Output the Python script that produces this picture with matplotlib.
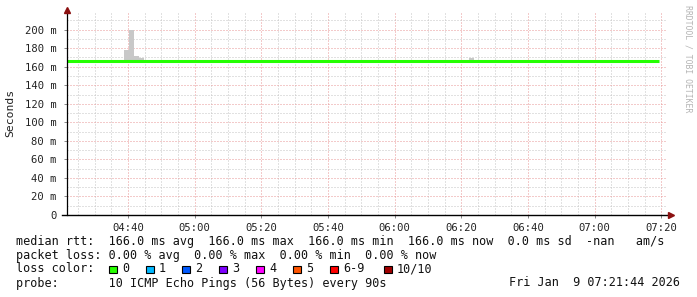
import numpy as np
import matplotlib
matplotlib.use("Agg")
import matplotlib.pyplot as plt
import matplotlib.dates as mdates
from matplotlib.patches import Rectangle

# graph window (rrdtool style, 3 hours ending at the timestamp)
day = "2026-01-09T"
t_start = day + "04:21:44"
t_end = day + "07:21:44"

# median rtt line (seconds)
median_times = ["04:21:44", "07:19:20"]
median_rtt = [0.166, 0.166]

# smoke (min..max of pings), 90 s steps
smoke_times = ["04:38:50", "04:40:20", "04:41:50", "04:43:20", "06:22:20"]
smoke_low = [0.165, 0.165, 0.165, 0.165, 0.1665]
smoke_high = [0.1784, 0.200, 0.1719, 0.1697, 0.1695]
step_seconds = 90

y_ticks = [0, 0.02, 0.04, 0.06, 0.08, 0.10, 0.12, 0.14, 0.16, 0.18, 0.20]
y_labels = ["0", "20 m", "40 m", "60 m", "80 m", "100 m", "120 m",
            "140 m", "160 m", "180 m", "200 m"]
y_top = 0.218

loss_labels = ["0", "1", "2", "3", "4", "5", "6-9", "10/10"]
loss_colors = ["#26ff00", "#00b8ff", "#0059ff", "#7e00ff",
               "#ff00ff", "#ff5500", "#ff0000", "#a10000"]
# pixel positions of the legend boxes
loss_box_x = [109, 146, 182, 219, 256, 293, 330, 384]

W, H = 697, 297
mono = "DejaVu Sans Mono"


def tnum(s):
    if "T" not in s:
        s = day + s
    return mdates.date2num(np.datetime64(s))


fig = plt.figure(figsize=(W / 100, H / 100), dpi=100)
fig.patch.set_facecolor("white")
ax = fig.add_axes([67 / W, (H - 215) / H, 600 / W, 202 / H])
ax.set_facecolor("white")

# smoke
x_smoke = [tnum(t) for t in smoke_times]
heights = np.array(smoke_high) - np.array(smoke_low)
ax.bar(x_smoke, heights, bottom=smoke_low, width=step_seconds / 86400,
       align="edge", color="#c8c8c8", linewidth=0, antialiased=False, zorder=2)

# median
ax.plot([tnum(t) for t in median_times], median_rtt, color=loss_colors[0],
        lw=2.2, solid_capstyle="butt", zorder=3)

ax.set_xlim(tnum(t_start), tnum(t_end))
ax.set_ylim(0, y_top)

ax.xaxis.set_major_locator(mdates.MinuteLocator(byminute=[0, 20, 40]))
ax.xaxis.set_minor_locator(mdates.MinuteLocator(byminute=[5, 10, 15, 25, 30, 35, 45, 50, 55]))
ax.xaxis.set_major_formatter(mdates.DateFormatter("%H:%M"))
ax.set_yticks(y_ticks)
ax.set_yticklabels(y_labels)
ax.set_yticks([0.01, 0.03, 0.05, 0.07, 0.09, 0.11, 0.13, 0.15, 0.17, 0.19, 0.21], minor=True)

dots = (0, (1, 2))
ax.grid(which="minor", color="#c4c4c4", lw=0.72, ls=dots, zorder=1)
ax.grid(which="major", color="#e89696", lw=0.72, ls=dots, zorder=1)

for s in ["top", "right"]:
    ax.spines[s].set_visible(False)
ax.spines["bottom"].set_visible(False)
ax.spines["left"].set_linewidth(0.9)
ax.spines["left"].set_zorder(4)

# x axis line extends a little left of the y axis, with arrows
ax.plot([-5 / 600, 1.0], [0, 0], transform=ax.transAxes, color="black",
        lw=1.0, clip_on=False, zorder=4)
ax.plot([1.0 + 4 / 600], [0], marker=">", ms=4.5, color="#8b1010",
        transform=ax.transAxes, clip_on=False, zorder=5)
ax.plot([0], [1.0 + 3 / 202], marker="^", ms=4.5, color="#8b1010",
        transform=ax.transAxes, clip_on=False, zorder=5)

ax.tick_params(axis="x", which="major", length=2, width=0.7, color="#888888",
               pad=3.5, labelsize=7.6, direction="out")
ax.tick_params(axis="x", which="minor", length=0)
ax.tick_params(axis="y", which="major", length=2, width=0.7, color="#888888",
               pad=5.5, labelsize=7.6, direction="out")
ax.tick_params(axis="y", which="minor", length=0)
for lab in ax.get_xticklabels() + ax.get_yticklabels():
    lab.set_family(mono)
    lab.set_color("#222222")

# axis title and watermark
fig.text(10 / W, 1 - 113 / H, "Seconds", rotation=90, family=mono, size=8.2,
         ha="center", va="center", color="#222222")
fig.text(688 / W, 1 - 59 / H, "RRDTOOL / TOBI OETIKER", rotation=270,
         family=mono, size=5.9, ha="center", va="center", color="#b4b4b4")

# legend lines
fs = 8.5
lines = [
    (241, "median rtt:  166.0 ms avg  166.0 ms max  166.0 ms min  166.0 ms now  0.0 ms sd  -nan   am/s"),
    (255, "packet loss: 0.00 % avg  0.00 % max  0.00 % min  0.00 % now"),
    (269, "loss color:"),
    (283, "probe:       10 ICMP Echo Pings (56 Bytes) every 90s"),
]
for y, s in lines:
    fig.text(16 / W, 1 - y / H, s, family=mono, size=fs, ha="left",
             va="center", color="#111111")
fig.text(680 / W, 1 - 283 / H, "Fri Jan  9 07:21:44 2026", family=mono,
         size=fs, ha="right", va="center", color="#111111")

for bx, c, lab in zip(loss_box_x, loss_colors, loss_labels):
    fig.patches.append(Rectangle((bx / W, 1 - 273 / H), 7.5 / W, 7.5 / H,
                                 transform=fig.transFigure, facecolor=c,
                                 edgecolor="black", linewidth=0.8))
    fig.text((bx + 13) / W, 1 - 269 / H, lab, family=mono, size=fs,
             ha="left", va="center", color="#111111")

fig.savefig("out.png", dpi=100, facecolor="white")
